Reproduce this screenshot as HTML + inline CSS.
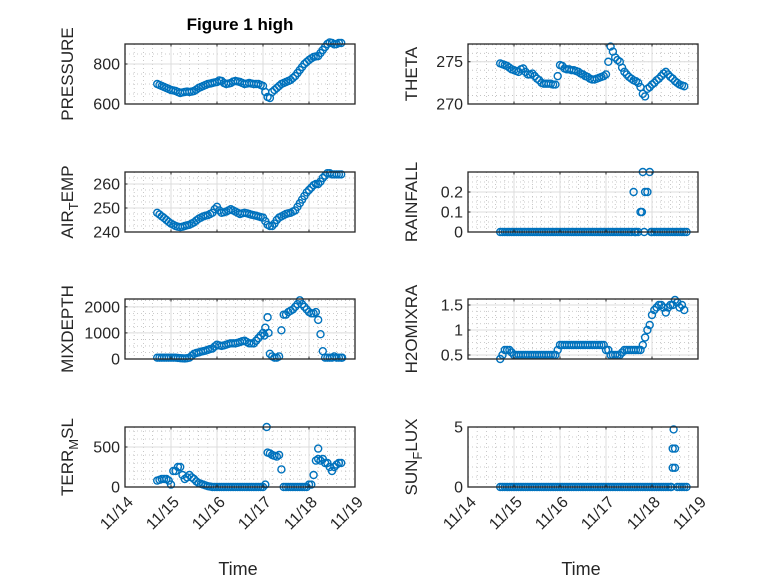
<!DOCTYPE html>
<html><head><meta charset="utf-8">
<style>
html,body{margin:0;padding:0;background:#fff;}
svg{display:block;font-family:"Liberation Sans","DejaVu Sans",sans-serif;}
</style></head>
<body>
<svg id="fig" width="778" height="583" viewBox="0 0 778 583" xmlns="http://www.w3.org/2000/svg">
<rect width="778" height="583" fill="#fff"/>
<text x="240" y="30" font-size="17" font-weight="bold" text-anchor="middle" fill="#000">Figure 1 high</text>
</svg>
<script>
const times = [14.70,14.75,14.80,14.85,14.90,14.95,15.00,15.05,15.10,15.15,15.20,15.25,15.30,15.35,15.40,15.45,15.50,15.55,15.60,15.65,15.70,15.75,15.80,15.85,15.90,15.95,16.00,16.05,16.10,16.15,16.20,16.25,16.30,16.35,16.40,16.45,16.50,16.55,16.60,16.65,16.70,16.75,16.80,16.85,16.90,16.95,17.00,17.05,17.10,17.15,17.20,17.25,17.30,17.35,17.40,17.45,17.50,17.55,17.60,17.65,17.70,17.75,17.80,17.85,17.90,17.95,18.00,18.05,18.10,18.15,18.20,18.25,18.30,18.35,18.40,18.45,18.50,18.55,18.60,18.65,18.70];
const xTickDays = [14,15,16,17,18,19];
const xTickLabels = ["11/14","11/15","11/16","11/17","11/18","11/19"];

const pressure = [700,695,690,685,680,675,670,668,665,660,655,658,660,662,660,662,665,672,680,685,690,695,700,702,705,708,710,718,715,705,700,702,705,712,715,713,710,705,700,702,705,702,700,700,700,695,690,660,635,630,660,670,680,690,700,705,710,715,720,730,740,755,770,785,800,810,820,828,835,838,840,855,870,885,900,908,905,898,900,905,905];
const theta = [274.8,274.7,274.6,274.5,274.3,274.1,274.0,273.9,273.8,274.1,274.2,273.8,273.5,273.5,273.6,273.3,273.0,272.8,272.5,272.4,272.4,272.4,272.4,272.3,272.3,273.3,274.6,274.5,274.2,274.1,274.1,274.0,274.0,273.9,273.8,273.6,273.5,273.3,273.2,273.0,272.9,272.9,273.0,273.1,273.2,273.3,273.5,275.0,276.8,276.2,275.5,275.2,275.0,274.3,273.8,273.5,273.2,273.0,272.8,272.7,272.5,272.0,271.2,270.9,271.8,272.0,272.3,272.5,272.8,273.0,273.3,273.6,273.8,273.5,273.2,273.0,272.7,272.5,272.3,272.2,272.1];
const airTemp = [248,247.3,246.5,245.8,245,244.2,243.5,243,242.5,242.2,242,242.2,242.5,242.8,243,243.5,244,244.8,245.5,246,246.5,246.8,247,247.5,248,249.5,250.5,249,248,248.2,248.5,249,249.5,249,248.5,248,247.5,247.8,248,247.8,247.5,247.2,247,246.8,246.5,246.2,246,244.5,243,242.5,242.5,243.5,245,246,246.5,247,247.5,247.8,248,248.5,249,250.5,252,253.5,255,256.5,257.5,258.5,259.5,260,260,261,262.5,263.5,264.5,264.5,264,264,264,264,264];
const rainfall = [0,0,0,0,0,0,0,0,0,0,0,0,0,0,0,0,0,0,0,0,0,0,0,0,0,0,0,0,0,0,0,0,0,0,0,0,0,0,0,0,0,0,0,0,0,0,0,0,0,0,0,0,0,0,0,0,0,0,0.2,0,0,0.1,0.3,0.2,0.2,0.3,0,0,0,0,0,0,0,0,0,0,0,0,0,0,0];
const rainExtraT = [17.78,17.83,17.98,18.75,17.62];
const rainExtraV = [0.1,0,0,0,0];
const mixDepth = [50,50,50,50,50,50,50,50,50,40,30,25,20,30,50,120,200,230,250,280,300,320,350,380,400,480,550,520,500,520,550,580,600,600,600,620,650,680,700,650,600,600,600,700,800,900,1000,1200,1600,200,100,50,50,100,1100,1700,1700,1800,1850,1900,2000,2100,2250,2100,2000,1900,1800,1750,1750,1800,1500,950,300,50,50,50,50,100,50,50,50];
const mixExtraT = [17.03,17.12,18.72];
const mixExtraV = [900,1000,50];
const h2o = [0.42,0.5,0.6,0.6,0.6,0.55,0.5,0.5,0.5,0.5,0.5,0.5,0.5,0.5,0.5,0.5,0.5,0.5,0.5,0.5,0.5,0.5,0.5,0.5,0.5,0.6,0.7,0.7,0.7,0.7,0.7,0.7,0.7,0.7,0.7,0.7,0.7,0.7,0.7,0.7,0.7,0.7,0.7,0.7,0.7,0.7,0.6,0.6,0.5,0.5,0.5,0.5,0.5,0.55,0.6,0.6,0.6,0.6,0.6,0.6,0.6,0.6,0.7,0.85,1.0,1.1,1.3,1.4,1.45,1.5,1.5,1.45,1.35,1.45,1.5,1.5,1.6,1.55,1.45,1.5,1.4];
const terr = [80,90,100,100,100,80,30,200,200,250,250,150,100,120,150,120,100,70,50,40,30,20,10,5,0,0,0,0,0,0,0,0,0,0,0,0,0,0,0,0,0,0,0,0,0,0,0,30,430,420,400,390,380,400,220,0,0,0,0,0,0,0,0,0,0,0,30,30,150,330,350,330,350,300,300,250,200,250,280,300,300];
const terrExtraT = [17.08,18.2];
const terrExtraV = [750,480];
const sunFlux = [0,0,0,0,0,0,0,0,0,0,0,0,0,0,0,0,0,0,0,0,0,0,0,0,0,0,0,0,0,0,0,0,0,0,0,0,0,0,0,0,0,0,0,0,0,0,0,0,0,0,0,0,0,0,0,0,0,0,0,0,0,0,0,0,0,0,0,0,0,0,0,0,0,0,0,1.6,3.2,0,0,0,0];
const sunExtraT = [18.45,18.47,18.5,18.75,18.42];
const sunExtraV = [3.2,4.8,1.6,0,0];

const NS = "http://www.w3.org/2000/svg";
const svg = document.getElementById('fig');
function mk(tag, attrs, parent){const e=document.createElementNS(NS,tag);for(const k in attrs)e.setAttribute(k,attrs[k]);(parent||svg).appendChild(e);return e;}

const panels = [
 {name:'pressure',col:0,row:0,min:600,max:900,ticks:[600,800],minor:50,vals:pressure,label:['PRESSURE']},
 {name:'theta',col:1,row:0,min:270,max:277.1,ticks:[270,275],minor:1,vals:theta,label:['THETA']},
 {name:'air-temp',col:0,row:1,min:240,max:265,ticks:[240,250,260],minor:2.5,vals:airTemp,label:['AIR','T','EMP']},
 {name:'rainfall',col:1,row:1,min:0,max:0.3,ticks:[0,0.1,0.2],minor:0.025,vals:rainfall,exT:rainExtraT,exV:rainExtraV,label:['RAINFALL']},
 {name:'mixdepth',col:0,row:2,min:0,max:2300,ticks:[0,1000,2000],minor:250,vals:mixDepth,exT:mixExtraT,exV:mixExtraV,label:['MIXDEPTH']},
 {name:'h2o-mix-ratio',col:1,row:2,min:0.42,max:1.62,ticks:[0.5,1,1.5],minor:0.125,vals:h2o,label:['H2OMIXRA']},
 {name:'terr-msl',col:0,row:3,min:0,max:750,ticks:[0,500],minor:100,vals:terr,exT:terrExtraT,exV:terrExtraV,label:['TERR','M','SL']},
 {name:'sun-flux',col:1,row:3,min:0,max:5,ticks:[0,5],minor:0.83333,vals:sunFlux,exT:sunExtraT,exV:sunExtraV,label:['SUN','F','LUX']}
];
const colX=[125,468], W=230, rowY=[44,172,299,427], H=60;

panels.forEach(p=>{
  const L=colX[p.col], T=rowY[p.row];
  const xs=d=>L+(d-14)/5*W;
  const ys=v=>T+H-(v-p.min)/(p.max-p.min)*H;
  const g=mk('g',{});
  
  
  mk('rect',{x:L,y:T,width:W,height:H,fill:'#fff'},g);
  for(let d=14.2; d<19; d+=0.2){ if(Math.abs(d-Math.round(d))<0.01) continue;
    mk('line',{x1:xs(d),x2:xs(d),y1:T,y2:T+H,stroke:'#bbb','stroke-width':0.8,'stroke-dasharray':'1 3'},g);}
  for(let v=Math.ceil(p.min/p.minor)*p.minor; v<p.max; v+=p.minor){
    mk('line',{x1:L,x2:L+W,y1:ys(v),y2:ys(v),stroke:'#bbb','stroke-width':0.8,'stroke-dasharray':'1 3'},g);}
  xTickDays.forEach(d=>mk('line',{x1:xs(d),x2:xs(d),y1:T,y2:T+H,stroke:'#dcdcdc','stroke-width':1},g));
  p.ticks.forEach(v=>mk('line',{x1:L,x2:L+W,y1:ys(v),y2:ys(v),stroke:'#dcdcdc','stroke-width':1},g));
  const allT=times.concat(p.exT||[]), allV=p.vals.concat(p.exV||[]);
  allT.forEach((t,i)=>{
    const c=mk('circle',{cx:xs(t),cy:ys(allV[i]),r:3.5,fill:'none',stroke:'#0072bd','stroke-width':1.4},g);
    
    
  });
  mk('rect',{x:L,y:T,width:W,height:H,fill:'none',stroke:'#262626','stroke-width':1.3},g);
  xTickDays.forEach((d,i)=>{
    mk('line',{x1:xs(d),x2:xs(d),y1:T+H,y2:T+H-2.5,stroke:'#262626','stroke-width':1},g);
    mk('line',{x1:xs(d),x2:xs(d),y1:T,y2:T+2.5,stroke:'#262626','stroke-width':1},g);
    if(p.row===3){
      const ax=xs(d)+9, ay=T+H+16;
      const tx=mk('text',{x:ax,y:ay,'font-size':16,fill:'#262626','text-anchor':'end',transform:`rotate(-45 ${ax} ${ay})`},g);
      tx.textContent=xTickLabels[i];
      
      
    }
  });
  p.ticks.forEach(v=>{
    mk('line',{x1:L,x2:L+2.5,y1:ys(v),y2:ys(v),stroke:'#262626','stroke-width':1},g);
    const tx=mk('text',{x:L-5,y:ys(v)+5.5,'font-size':16,fill:'#262626','text-anchor':'end'},g);
    tx.textContent=String(v);
    
    
  });
  const lx=p.col===0?73:417, ly=T+H/2;
  const yl=mk('text',{x:lx,y:ly,'font-size':17,fill:'#262626','text-anchor':'middle',transform:`rotate(-90 ${lx} ${ly})`},g);
  
  
  if(p.label.length===1){ yl.textContent=p.label[0]; }
  else{
    const a=mk('tspan',{},yl); a.textContent=p.label[0];
    const b=mk('tspan',{dy:5,'font-size':13},yl); b.textContent=p.label[1];
    const c=mk('tspan',{dy:-5},yl); c.textContent=p.label[2];
  }
  if(p.row===3){
    const xl=mk('text',{x:L+W/2-2,y:575,'font-size':18,fill:'#262626','text-anchor':'middle'},g);
    xl.textContent='Time';
    
    
  }
});
</script>
</body></html>
